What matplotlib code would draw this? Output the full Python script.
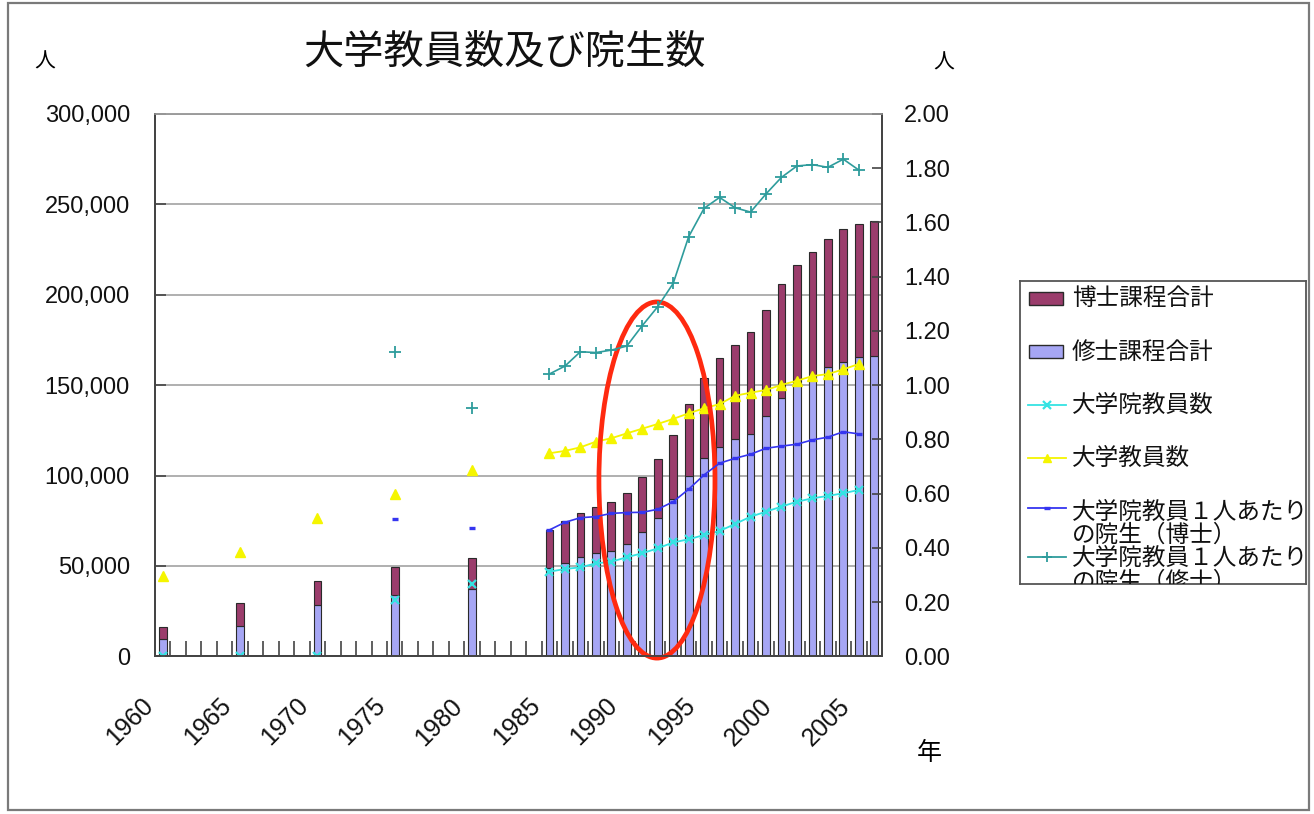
import numpy as np
import matplotlib
matplotlib.use("Agg")
import matplotlib.pyplot as plt
from matplotlib.patches import Rectangle, Ellipse
from matplotlib.lines import Line2D
from matplotlib.transforms import ScaledTranslation
from matplotlib.ticker import FuncFormatter, FixedLocator

plt.rcParams['font.family'] = ['Liberation Sans', 'Noto Sans CJK JP', 'DejaVu Sans']
JP = ['Noto Sans CJK JP', 'DejaVu Sans']

# ---- data -------------------------------------------------------------
# survey years: every 5 years up to 1980, then yearly
years = [1960, 1965, 1970, 1975, 1980] + list(range(1985, 2007))

# graduate students (persons)
master_students = [9400, 16900, 28200, 33900, 37000,
                   48700, 51400, 54800, 57000, 58200, 62000, 68900, 76700,
                   87000, 99700, 109700, 115900, 120000, 123200, 133000,
                   142700, 151000, 154700, 160200, 163000, 165400, 166100]
doctor_students = [7000, 12400, 13500, 15300, 17200,
                   21200, 23400, 24300, 25800, 27300, 28500, 30300, 32500,
                   35600, 39800, 44100, 49300, 52200, 56000, 58500,
                   63100, 65300, 68800, 70500, 73200, 73700, 74700]

# faculty (persons); None = no figure
grad_faculty = [0, 0, 0, 31200, 40200,
                46800, 48300, 49200, 51400, 52300, 54800, 57000, 59700,
                63000, 64700, 67100, 69300, 73200, 77200, 80000,
                82800, 85500, 87400, 88700, 90200, 92000, None]
univ_faculty = [44400, 57500, 76700, 89800, 103000,
                112300, 113600, 115600, 118700, 120600, 123300, 125900, 128500,
                131300, 134400, 137200, 139500, 144100, 145800, 147300,
                150100, 152400, 155000, 156100, 158700, 161700, None]

# graduate students per graduate-school faculty member
doctor_per_faculty = [None, None, None, 0.506, 0.472,
                      0.466, 0.494, 0.511, 0.515, 0.527, 0.530, 0.531, 0.542,
                      0.570, 0.616, 0.669, 0.712, 0.730, 0.745, 0.767,
                      0.775, 0.782, 0.798, 0.808, 0.828, 0.820, None]
master_per_faculty = [None, None, None, 1.122, 0.914,
                      1.041, 1.070, 1.123, 1.120, 1.129, 1.144, 1.219, 1.289,
                      1.375, 1.547, 1.652, 1.692, 1.654, 1.638, 1.705,
                      1.766, 1.808, 1.813, 1.803, 1.833, 1.793, None]

labels = ['博士課程合計', '修士課程合計', '大学院教員数', '大学教員数',
          '大学院教員１人あたり\nの院生（博士）', '大学院教員１人あたり\nの院生（修士）']

first_year, last_year = 1960, 2006
label_years = list(range(1960, 2006, 5))

# ---- helpers -------------------------------------------------------------
n_cat = last_year - first_year + 1
pos = np.array([y - first_year for y in years])


def full_axis(vals):
    """Spread values over the yearly category axis, NaN where missing."""
    out = np.full(n_cat, np.nan)
    for p, v in zip(pos, vals):
        out[p] = np.nan if v is None else v
    return out


xs = np.arange(n_cat)

C_DOC = '#9B3D6C'
C_MAS = '#A6A6F4'
C_GF = '#35E3E3'
C_UF = '#F5F500'
C_DR = '#3535F0'
C_MR = '#2E9C9C'
C_EDGE = '#2a2a2a'

W, H = 1314, 814
fig = plt.figure(figsize=(W / 100, H / 100), dpi=100)
fig.patch.set_facecolor('white')

ax = fig.add_axes([155 / W, 1 - 656.3 / H, 727 / W, 542.4 / H])
ax2 = ax.twinx()

# stacked bars
bw = 0.5
ax.bar(pos, master_students, width=bw, color=C_MAS, edgecolor=C_EDGE, linewidth=0.8, zorder=2)
ax.bar(pos, doctor_students, width=bw, bottom=master_students, color=C_DOC,
       edgecolor=C_EDGE, linewidth=0.8, zorder=2)

# faculty counts (left axis)
ax.plot(xs, full_axis(grad_faculty), color=C_GF, lw=1.3, marker='x', ms=6, mew=1.6, zorder=4)
ax.plot(xs, full_axis(univ_faculty), color=C_UF, lw=1.3, marker='^', ms=7, mec=C_UF, zorder=4)

# ratios (right axis)
ax2.plot(xs, full_axis(doctor_per_faculty), color=C_DR, lw=1.2, marker='_', ms=5, mew=2.4, zorder=4)
ax2.plot(xs, full_axis(master_per_faculty), color=C_MR, lw=1.2, marker='+', ms=8, mew=1.3, zorder=4)

# axes ranges
ax.set_xlim(-0.5, n_cat - 0.5)
ax.set_ylim(0, 300000)
ax2.set_ylim(0, 2.0)

# grid & spines
ax.set_axisbelow(True)
ax.yaxis.grid(True, color='#9a9a9a', lw=1.1)
for a in (ax, ax2):
    for s in ('left', 'right', 'bottom'):
        a.spines[s].set_color('#444444')
        a.spines[s].set_linewidth(1.3)
    a.spines['top'].set_color('#9a9a9a')
    a.spines['top'].set_linewidth(1.1)

# y ticks
ax.set_yticks(np.arange(0, 300001, 50000))
ax.yaxis.set_major_formatter(FuncFormatter(lambda v, p: f'{int(v):,}'))
ax.tick_params(axis='y', direction='in', length=8, width=1.2, color='#444444',
               labelsize=17, pad=18, labelcolor='#111111')
ax2.set_yticks(np.arange(0, 2.001, 0.2))
ax2.yaxis.set_major_formatter(FuncFormatter(lambda v, p: f'{v:.2f}'))
ax2.tick_params(axis='y', direction='in', length=7, width=1.2, color='#444444',
                labelsize=17, pad=16, labelcolor='#111111')

# x ticks: boundary marks, year labels every five years
ax.xaxis.set_major_locator(FixedLocator([y - first_year for y in label_years]))
ax.set_xticklabels([str(y) for y in label_years], rotation=45, ha='right',
                   va='center', rotation_mode='anchor')
ax.xaxis.set_minor_locator(FixedLocator(np.arange(0.5, n_cat - 1, 1.0)))
ax.tick_params(axis='x', which='major', length=0, labelsize=18, pad=33, labelcolor='#111111')
ax.tick_params(axis='x', which='minor', direction='in', length=11, width=1.2, color='#444444')
for lab in ax.get_xticklabels():
    lab.set_transform(lab.get_transform() + ScaledTranslation(-0.13, 0, fig.dpi_scale_trans))

# highlight ellipse
ax.add_patch(Ellipse((31.95, 97500), 7.5, 197000, fill=False, ec='#FF2A10', lw=3.4,
                     zorder=6, clip_on=False))

# titles and unit labels
fig.text(505 / W, 1 - 52 / H, '大学教員数及び院生数', ha='center', va='center',
         fontsize=29, family=JP, color='#111111')
fig.text(45 / W, 1 - 62 / H, '人', ha='center', va='center', fontsize=15, family=JP)
fig.text(944 / W, 1 - 63 / H, '人', ha='center', va='center', fontsize=15, family=JP)
fig.text(929 / W, 1 - 753 / H, '年', ha='center', va='center', fontsize=18, family=JP)

# outer frame
fig.patches.append(Rectangle((8 / W, 1 - 810 / H), (1309 - 8) / W, (810 - 3) / H,
                             transform=fig.transFigure, fill=False, ec='#7a7a7a', lw=1.6))

# legend box (fixed height, last entry runs past the bottom edge)
lx0, ly0, lx1, ly1 = 1020, 281, 1306, 584
lax = fig.add_axes([lx0 / W, 1 - ly1 / H, (lx1 - lx0) / W, (ly1 - ly0) / H])
lax.set_xlim(0, lx1 - lx0)
lax.set_ylim(ly1 - ly0, 0)
lax.set_xticks([])
lax.set_yticks([])
for s in lax.spines.values():
    s.set_color('#555555')
    s.set_linewidth(1.3)

tx = 52
lax.add_patch(Rectangle((9, 11), 34, 13, fc=C_DOC, ec=C_EDGE, lw=1.0))
lax.add_patch(Rectangle((9, 64), 34, 13, fc=C_MAS, ec=C_EDGE, lw=1.0))
handles = [
    (124, dict(color=C_GF, marker='x', ms=6, mew=1.6)),
    (177, dict(color=C_UF, marker='^', ms=6)),
    (227, dict(color=C_DR, marker='_', ms=4, mew=2.4)),
    (276, dict(color=C_MR, marker='+', ms=7, mew=1.3)),
]
for yy, kw in handles:
    lax.add_line(Line2D([8, 46], [yy, yy], lw=1.3, markevery=[1], **{**kw}) if False else
                 Line2D([8, 27, 46], [yy, yy, yy], lw=1.3, markevery=[1], **kw))

text_rows = [
    (17, labels[0]),
    (71, labels[1]),
    (124, labels[2]),
    (177, labels[3]),
    (231, labels[4].split('\n')[0]),
    (254, labels[4].split('\n')[1]),
    (277, labels[5].split('\n')[0]),
    (301, labels[5].split('\n')[1]),
]
for yy, txt in text_rows:
    t = lax.text(tx, yy, txt, ha='left', va='center', fontsize=17, family=JP, color='#111111')
    t.set_clip_box(lax.bbox)
    t.set_clip_on(True)

fig.savefig('out.png', dpi=100, facecolor='white')
